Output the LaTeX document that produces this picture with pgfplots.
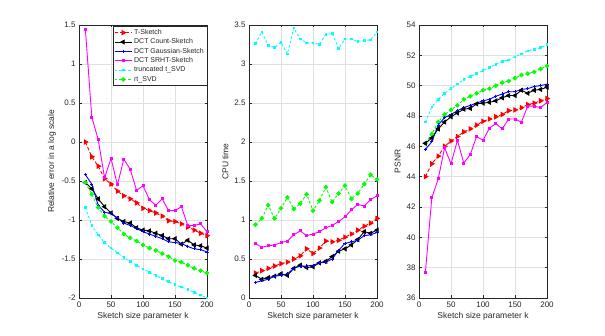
\documentclass[border=0pt]{standalone}
\usepackage{pgfplots}
\pgfplotsset{compat=1.18}
\usepackage{fontspec}
\setmainfont{Liberation Sans}

\definecolor{axgray}{gray}{0.15}
\definecolor{gridgray}{gray}{0.88}
\definecolor{mred}{rgb}{1,0,0}
\definecolor{mblue}{rgb}{0,0,1}
\definecolor{mmag}{rgb}{1,0,1}
\definecolor{mcyan}{rgb}{0,1,1}
\definecolor{mgreen}{rgb}{0,1,0}

\pgfplotsset{
  panel/.style={
    anchor=south west, scale only axis,
    width=128pt, height=273pt,
    xmin=0, xmax=200, xtick={0,50,...,200},
    axis line style={axgray, line width=0.4pt},
    tick style={axgray, line width=0.4pt},
    tick align=inside, major tick length=2.5pt,
    xmajorgrids, ymajorgrids,
    grid style={gridgray, line width=0.4pt},
    ticklabel style={font=\fontsize{8}{9}\selectfont, text=axgray},
    label style={font=\fontsize{8.5}{10}\selectfont, text=axgray},
    /pgf/number format/assume math mode=true,
    xlabel={Sketch size parameter k},
    xlabel style={yshift=2pt},
    scaled ticks=false,
    every axis plot/.append style={line width=0.9pt},
  },
  tsk/.style={mred, dash pattern=on 3.5pt off 2pt, mark=triangle*, mark size=2.4pt, mark options={solid, rotate=-90}},
  csk/.style={black, solid, mark=triangle*, mark size=2.2pt, mark options={solid, rotate=90}},
  gsk/.style={mblue, solid, mark=+, mark size=1.6pt, mark options={solid}},
  ssk/.style={mmag, solid, mark=square*, mark size=1pt, mark options={solid}},
  tsvd/.style={mcyan, dash pattern=on 2.5pt off 2pt, mark=square*, mark size=0.8pt, mark options={solid}},
  rsvd/.style={mgreen, dash pattern=on 2.5pt off 2pt, mark=*, mark size=1.8pt, mark options={solid}},
}

\begin{document}
\begin{tikzpicture}
\useasboundingbox (0,0) rectangle (605pt,336pt);

% ---- panel 1: relative error ----
\begin{axis}[panel, at={(79pt,38pt)},
    ymin=-2, ymax=1.5, ytick={-2,-1.5,...,1.5},
    yticklabels={-2,-1.5,-1,-0.5,0,0.5,1,1.5},
    ylabel={Relative error in a log scale},
    ylabel style={yshift=-1pt},
    legend style={at={(1.0,0.995)}, anchor=north east,
      font=\fontsize{7}{8}\selectfont, draw=axgray, line width=0.4pt,
      inner xsep=1pt, inner ysep=0.8pt, row sep=-1.2pt, text=axgray},
    legend cell align=left,
    legend image post style={line width=0.9pt},
]
\addplot[tsk] coordinates {
 (10,0.00) (20,-0.19) (30,-0.31) (40,-0.47) (50,-0.54) (60,-0.63) (70,-0.69) (80,-0.73) (90,-0.78) (100,-0.85)
 (110,-0.88) (120,-0.91) (130,-0.95) (140,-1.01) (150,-1.02) (160,-1.05) (170,-1.09) (180,-1.13) (190,-1.17) (200,-1.20)};
\addlegendentry{T-Sketch}
\addplot[csk] coordinates {
 (10,-0.52) (20,-0.60) (30,-0.73) (40,-0.83) (50,-0.91) (60,-0.98) (70,-1.02) (80,-1.04) (90,-1.10) (100,-1.13)
 (110,-1.14) (120,-1.17) (130,-1.20) (140,-1.24) (150,-1.24) (160,-1.31) (170,-1.26) (180,-1.32) (190,-1.33) (200,-1.36)};
\addlegendentry{DCT Count-Sketch}
\addplot[gsk] coordinates {
 (10,-0.42) (20,-0.54) (30,-0.81) (40,-0.90) (50,-0.92) (60,-0.97) (70,-1.04) (80,-1.07) (90,-1.11) (100,-1.15)
 (110,-1.18) (120,-1.21) (130,-1.24) (140,-1.28) (150,-1.29) (160,-1.30) (170,-1.34) (180,-1.37) (190,-1.38) (200,-1.41)};
\addlegendentry{DCT Gaussian-Sketch}
\addplot[ssk] coordinates {
 (10,1.44) (20,0.32) (30,0.03) (40,-0.46) (50,-0.21) (60,-0.55) (70,-0.22) (80,-0.35) (90,-0.62) (100,-0.56)
 (110,-0.74) (120,-0.81) (130,-0.73) (140,-0.88) (150,-0.88) (160,-0.83) (170,-1.07) (180,-1.07) (190,-1.05) (200,-1.15)};
\addlegendentry{DCT SRHT-Sketch}
\addplot[tsvd] coordinates {
 (10,-0.84) (20,-1.07) (30,-1.19) (40,-1.29) (50,-1.36) (60,-1.42) (70,-1.48) (80,-1.53) (90,-1.58) (100,-1.63)
 (110,-1.67) (120,-1.71) (130,-1.75) (140,-1.79) (150,-1.83) (160,-1.86) (170,-1.89) (180,-1.93) (190,-1.96) (200,-2.00)};
\addlegendentry{truncated t\_SVD}
\addplot[rsvd] coordinates {
 (10,-0.52) (20,-0.67) (30,-0.84) (40,-0.95) (50,-1.02) (60,-1.10) (70,-1.18) (80,-1.23) (90,-1.27) (100,-1.32)
 (110,-1.36) (120,-1.39) (130,-1.43) (140,-1.47) (150,-1.52) (160,-1.54) (170,-1.58) (180,-1.62) (190,-1.65) (200,-1.68)};
\addlegendentry{rt\_SVD}
\end{axis}

% ---- panel 2: CPU time ----
\begin{axis}[panel, at={(249pt,38pt)},
    ymin=0, ymax=3.5, ytick={0,0.5,...,3.5},
    yticklabels={0,0.5,1,1.5,2,2.5,3,3.5},
    ylabel={CPU time}, ylabel style={yshift=-1pt},
]
\addplot[tsvd] coordinates {
 (10,3.26) (20,3.41) (30,3.24) (40,3.21) (50,3.28) (60,3.13) (70,3.46) (80,3.32) (90,3.27) (100,3.27)
 (110,3.25) (120,3.38) (130,3.39) (140,3.20) (150,3.32) (160,3.32) (170,3.29) (180,3.30) (190,3.31) (200,3.41)};
\addplot[rsvd] coordinates {
 (10,0.94) (20,1.02) (30,1.19) (40,1.02) (50,1.15) (60,1.29) (70,1.14) (80,1.21) (90,1.33) (100,1.12)
 (110,1.25) (120,1.42) (130,1.23) (140,1.34) (150,1.44) (160,1.27) (170,1.34) (180,1.46) (190,1.58) (200,1.52)};
\addplot[ssk] coordinates {
 (10,0.70) (20,0.65) (30,0.67) (40,0.68) (50,0.71) (60,0.73) (70,0.81) (80,0.86) (90,0.80) (100,0.82)
 (110,0.85) (120,0.90) (130,0.93) (140,0.98) (150,1.04) (160,1.13) (170,1.20) (180,1.18) (190,1.26) (200,1.31)};
\addplot[tsk] coordinates {
 (10,0.32) (20,0.35) (30,0.38) (40,0.41) (50,0.44) (60,0.46) (70,0.50) (80,0.54) (90,0.63) (100,0.57)
 (110,0.64) (120,0.73) (130,0.72) (140,0.74) (150,0.78) (160,0.82) (170,0.87) (180,0.92) (190,0.96) (200,1.02)};
\addplot[csk] coordinates {
 (10,0.29) (20,0.24) (30,0.26) (40,0.28) (50,0.31) (60,0.29) (70,0.38) (80,0.42) (90,0.39) (100,0.40)
 (110,0.45) (120,0.47) (130,0.53) (140,0.60) (150,0.63) (160,0.68) (170,0.75) (180,0.85) (190,0.83) (200,0.87)};
\addplot[gsk] coordinates {
 (10,0.20) (20,0.22) (30,0.24) (40,0.28) (50,0.29) (60,0.31) (70,0.38) (80,0.41) (90,0.41) (100,0.42)
 (110,0.45) (120,0.46) (130,0.50) (140,0.61) (150,0.70) (160,0.72) (170,0.74) (180,0.80) (190,0.81) (200,0.84)};
\end{axis}

% ---- panel 3: PSNR ----
\begin{axis}[panel, at={(419pt,38pt)},
    ymin=36, ymax=54, ytick={36,38,...,54},
    ylabel={PSNR}, ylabel style={yshift=-1pt},
]
\addplot[tsvd] coordinates {
 (10,47.6) (20,48.6) (30,49.1) (40,49.5) (50,49.8) (60,50.1) (70,50.4) (80,50.6) (90,50.8) (100,51.0)
 (110,51.2) (120,51.4) (130,51.6) (140,51.7) (150,51.9) (160,52.1) (170,52.3) (180,52.4) (190,52.5) (200,52.7)};
\addplot[rsvd] coordinates {
 (10,46.2) (20,46.8) (30,47.6) (40,48.1) (50,48.4) (60,48.7) (70,49.1) (80,49.3) (90,49.5) (100,49.7)
 (110,49.8) (120,50.0) (130,50.2) (140,50.3) (150,50.5) (160,50.7) (170,50.8) (180,50.9) (190,51.1) (200,51.3)};
\addplot[gsk] coordinates {
 (10,45.8) (20,46.3) (30,47.4) (40,47.9) (50,48.1) (60,48.35) (70,48.55) (80,48.7) (90,48.85) (100,49.0)
 (110,49.1) (120,49.3) (130,49.45) (140,49.6) (150,49.6) (160,49.75) (170,49.8) (180,49.95) (190,50.0) (200,50.1)};
\addplot[csk] coordinates {
 (10,46.2) (20,46.55) (30,47.15) (40,47.6) (50,47.95) (60,48.2) (70,48.45) (80,48.5) (90,48.8) (100,48.85)
 (110,48.9) (120,49.0) (130,49.2) (140,49.35) (150,49.35) (160,49.7) (170,49.5) (180,49.7) (190,49.75) (200,49.9)};
\addplot[tsk] coordinates {
 (10,44.0) (20,44.85) (30,45.35) (40,46.0) (50,46.35) (60,46.65) (70,46.95) (80,47.15) (90,47.4) (100,47.65)
 (110,47.8) (120,47.95) (130,48.1) (140,48.35) (150,48.4) (160,48.55) (170,48.75) (180,48.85) (190,49.0) (200,49.15)};
\addplot[ssk] coordinates {
 (10,37.7) (20,42.6) (30,43.85) (40,45.9) (50,44.85) (60,46.4) (70,44.9) (80,45.45) (90,46.65) (100,46.4)
 (110,47.2) (120,47.5) (130,47.15) (140,47.8) (150,47.8) (160,47.6) (170,48.65) (180,48.65) (190,48.55) (200,48.9)};
\end{axis}
\end{tikzpicture}
\end{document}
